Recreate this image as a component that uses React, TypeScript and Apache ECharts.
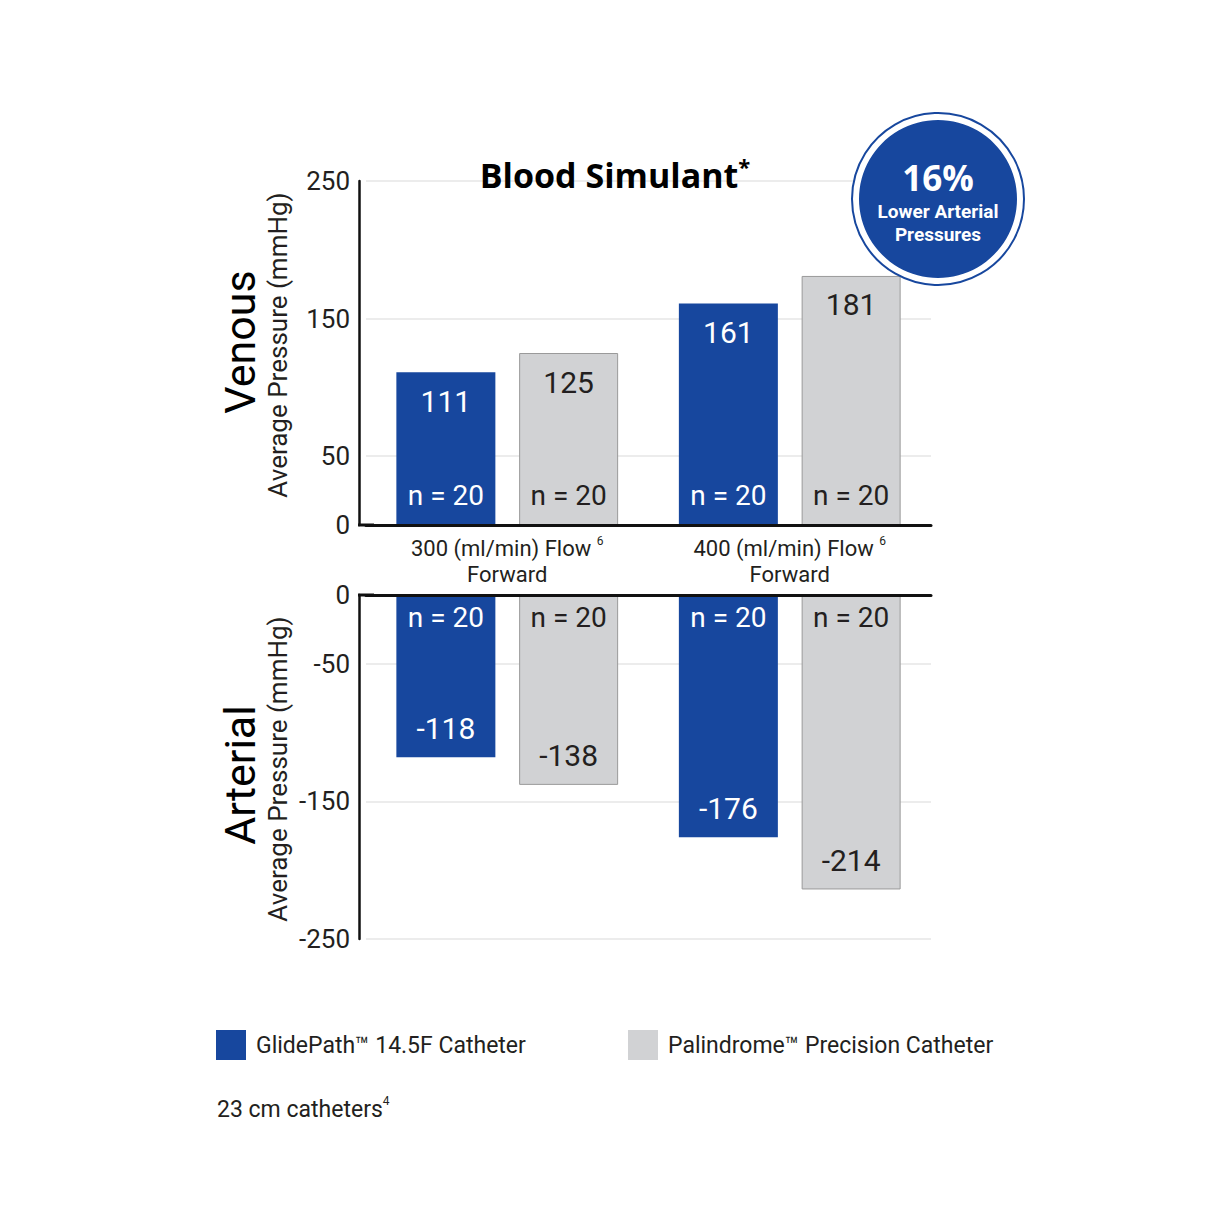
import { useEffect, useRef } from 'react';
import * as echarts from 'echarts';

// chart values
const flowLabels = ['300 (ml/min) Flow', '400 (ml/min) Flow'];
const flowSubLabel = 'Forward';
const glideVenous = [111, 161];
const palVenous = [125, 181];
const glideArterial = [-118, -176];
const palArterial = [-138, -214];
const glideN = [20, 20];
const palN = [20, 20];
const venousTicks = [0, 50, 150, 250];
const arterialTicks = [0, -50, -150, -250];

const GLIDE = 'GlidePath™ 14.5F Catheter';
const PAL = 'Palindrome™ Precision Catheter';

const BLUE = '#17479E';
const GRAY = '#D1D2D4';
const DARK = '#231F20';
const GRID = '#E6E6E6';
const FONT = 'Roboto, "Noto Sans", sans-serif';
const BOLD_FONT = '"Open Sans", "Noto Sans", sans-serif';

export default function App() {
  const chartDiv = useRef<HTMLDivElement>(null);

  useEffect(() => {
    document.body.style.margin = '0';
    if (!chartDiv.current) return;
    const chart = echarts.init(chartDiv.current, null, { renderer: 'svg' });

    const valueLabel = (color: string, position: string, distance: number) => ({
      show: true,
      position,
      distance,
      color,
      fontSize: 30,
      fontFamily: FONT,
    });

    const nLabel = (counts: number[], color: string, position: string, distance: number) => ({
      show: true,
      position,
      distance,
      color,
      fontSize: 28,
      fontFamily: FONT,
      formatter: (p: any) => `n = ${counts[p.dataIndex]}`,
    });

    const hidden = { itemStyle: { color: 'rgba(0,0,0,0)', borderWidth: 0 }, silent: true };

    // grid starts a little right of the y axis line so the bar groups sit where the reference has them
    const yCommon = {
      type: 'value',
      interval: 50,
      offset: 7,
      axisTick: { show: false },
      axisLine: { show: true, lineStyle: { color: '#111', width: 2.5 } },
    };

    // the rect symbol closes the small gap between the offset y axis and the x axis line
    const xLine = {
      symbol: ['rect', 'none'],
      symbolSize: [3, 16],
      lineStyle: { color: '#111', width: 3 },
    };

    const option: any = {
      animation: false,
      textStyle: { fontFamily: FONT },
      grid: [
        { left: 366, top: 181, width: 565, height: 344 },
        { left: 366, top: 595, width: 565, height: 344 },
      ],
      xAxis: [
        {
          type: 'category',
          gridIndex: 0,
          data: flowLabels,
          z: 5,
          axisTick: { show: false },
          axisLine: xLine,
          axisLabel: {
            margin: 10,
            formatter: (v: string) => `{a|${v} }{s|6}\n{a|${flowSubLabel}}`,
            rich: {
              a: { fontSize: 22, color: DARK, lineHeight: 26, fontFamily: FONT },
              s: { fontSize: 12, color: DARK, verticalAlign: 'top', lineHeight: 26, fontFamily: FONT },
            },
          },
        },
        { type: 'category', gridIndex: 0, data: flowLabels, show: false },
        {
          type: 'category',
          gridIndex: 1,
          data: flowLabels,
          position: 'top',
          z: 5,
          axisTick: { show: false },
          axisLabel: { show: false },
          axisLine: xLine,
        },
        { type: 'category', gridIndex: 1, data: flowLabels, show: false, position: 'top' },
      ],
      yAxis: [
        {
          ...yCommon,
          gridIndex: 0,
          min: 0,
          max: 250,
          axisLabel: {
            fontSize: 26,
            color: DARK,
            margin: 9,
            formatter: (v: number) => (venousTicks.includes(v) ? String(v) : ''),
          },
          splitLine: {
            lineStyle: { color: [GRID, GRID, 'rgba(0,0,0,0)', GRID, 'rgba(0,0,0,0)', GRID], width: 1.5 },
          },
        },
        {
          ...yCommon,
          gridIndex: 1,
          min: -250,
          max: 0,
          axisLabel: {
            fontSize: 26,
            color: DARK,
            margin: 9,
            formatter: (v: number) => (arterialTicks.includes(v) ? String(v) : ''),
          },
          splitLine: {
            lineStyle: { color: [GRID, 'rgba(0,0,0,0)', GRID, 'rgba(0,0,0,0)', GRID, GRID], width: 1.5 },
          },
        },
      ],
      legend: [
        {
          data: [GLIDE],
          left: 216,
          top: 1030,
          padding: 0,
          itemWidth: 30,
          itemHeight: 30,
          icon: 'rect',
          selectedMode: false,
          itemStyle: { borderWidth: 0 },
          textStyle: { fontSize: 23, color: DARK, fontFamily: FONT, padding: [0, 0, 0, 5] },
        },
        {
          data: [PAL],
          left: 628,
          top: 1030,
          padding: 0,
          itemWidth: 30,
          itemHeight: 30,
          icon: 'rect',
          selectedMode: false,
          itemStyle: { borderWidth: 0 },
          textStyle: { fontSize: 23, color: DARK, fontFamily: FONT, padding: [0, 0, 0, 5] },
        },
      ],
      series: [
        // venous
        {
          type: 'bar', name: GLIDE, xAxisIndex: 0, yAxisIndex: 0, data: glideVenous,
          barWidth: 99, barGap: '24%',
          itemStyle: { color: BLUE },
          label: valueLabel('#fff', 'insideTop', 14),
        },
        {
          type: 'bar', name: PAL, xAxisIndex: 0, yAxisIndex: 0, data: palVenous,
          barWidth: 99, barGap: '24%',
          itemStyle: { color: GRAY, borderColor: '#9A9A9A', borderWidth: 1 },
          label: valueLabel(DARK, 'insideTop', 14),
        },
        {
          type: 'bar', name: 'glideVenousN', xAxisIndex: 1, yAxisIndex: 0, data: glideVenous,
          barWidth: 99, barGap: '24%', ...hidden,
          label: nLabel(glideN, '#fff', 'insideBottom', 16),
        },
        {
          type: 'bar', name: 'palVenousN', xAxisIndex: 1, yAxisIndex: 0, data: palVenous,
          barWidth: 99, barGap: '24%', ...hidden,
          label: nLabel(palN, DARK, 'insideBottom', 16),
        },
        // arterial
        {
          type: 'bar', name: GLIDE, xAxisIndex: 2, yAxisIndex: 1, data: glideArterial,
          barWidth: 99, barGap: '24%',
          itemStyle: { color: BLUE },
          label: valueLabel('#fff', 'insideBottom', 14),
        },
        {
          type: 'bar', name: PAL, xAxisIndex: 2, yAxisIndex: 1, data: palArterial,
          barWidth: 99, barGap: '24%',
          itemStyle: { color: GRAY, borderColor: '#9A9A9A', borderWidth: 1 },
          label: valueLabel(DARK, 'insideBottom', 14),
        },
        {
          type: 'bar', name: 'glideArterialN', xAxisIndex: 3, yAxisIndex: 1, data: glideArterial,
          barWidth: 99, barGap: '24%', ...hidden,
          label: nLabel(glideN, '#fff', 'insideTop', 8),
        },
        {
          type: 'bar', name: 'palArterialN', xAxisIndex: 3, yAxisIndex: 1, data: palArterial,
          barWidth: 99, barGap: '24%', ...hidden,
          label: nLabel(palN, DARK, 'insideTop', 8),
        },
      ],
      graphic: [
        {
          type: 'text', x: 615, y: 175, z: 10,
          style: {
            text: '{t|Blood Simulant}{s|*}',
            align: 'center',
            verticalAlign: 'middle',
            rich: {
              t: { font: `bold 34px ${BOLD_FONT}`, fill: '#000', lineHeight: 40 },
              s: { font: `bold 22px ${BOLD_FONT}`, fill: '#000', verticalAlign: 'top', lineHeight: 40 },
            },
          },
        },
        {
          type: 'text', x: 240, y: 342, rotation: Math.PI / 2, z: 10,
          style: { text: 'Venous', font: `43px ${FONT}`, fill: '#000', align: 'center', verticalAlign: 'middle' },
        },
        {
          type: 'text', x: 278, y: 345, rotation: Math.PI / 2, z: 10,
          style: { text: 'Average Pressure (mmHg)', font: `26px ${FONT}`, fill: DARK, align: 'center', verticalAlign: 'middle' },
        },
        {
          type: 'text', x: 240, y: 775, rotation: Math.PI / 2, z: 10,
          style: { text: 'Arterial', font: `43px ${FONT}`, fill: '#000', align: 'center', verticalAlign: 'middle' },
        },
        {
          type: 'text', x: 278, y: 769, rotation: Math.PI / 2, z: 10,
          style: { text: 'Average Pressure (mmHg)', font: `26px ${FONT}`, fill: DARK, align: 'center', verticalAlign: 'middle' },
        },
        {
          type: 'text', x: 217, y: 1109, z: 10,
          style: {
            text: '{a|23 cm catheters}{s|4}',
            verticalAlign: 'middle',
            rich: {
              a: { fontSize: 23, fill: DARK, fontFamily: FONT, lineHeight: 28 },
              s: { fontSize: 12, fill: DARK, fontFamily: FONT, verticalAlign: 'top', lineHeight: 28 },
            },
          },
        },
        // badge
        {
          type: 'group', z: 20,
          children: [
            { type: 'circle', shape: { cx: 938, cy: 199, r: 86 }, style: { fill: '#fff', stroke: BLUE, lineWidth: 2 }, z: 20 },
            { type: 'circle', shape: { cx: 938, cy: 199, r: 79 }, style: { fill: BLUE }, z: 21 },
            {
              type: 'text', x: 938, y: 177, z: 22,
              style: { text: '16%', font: `bold 35px ${BOLD_FONT}`, fill: '#fff', align: 'center', verticalAlign: 'middle' },
            },
            {
              type: 'text', x: 938, y: 211, z: 22,
              style: { text: 'Lower Arterial', font: `bold 19px ${FONT}`, fill: '#fff', align: 'center', verticalAlign: 'middle' },
            },
            {
              type: 'text', x: 938, y: 234, z: 22,
              style: { text: 'Pressures', font: `bold 19px ${FONT}`, fill: '#fff', align: 'center', verticalAlign: 'middle' },
            },
          ],
        },
      ],
    };

    chart.setOption(option);
    return () => {
      chart.dispose();
    };
  }, []);

  return <div ref={chartDiv} style={{ width: 1227, height: 1227 }} />;
}
